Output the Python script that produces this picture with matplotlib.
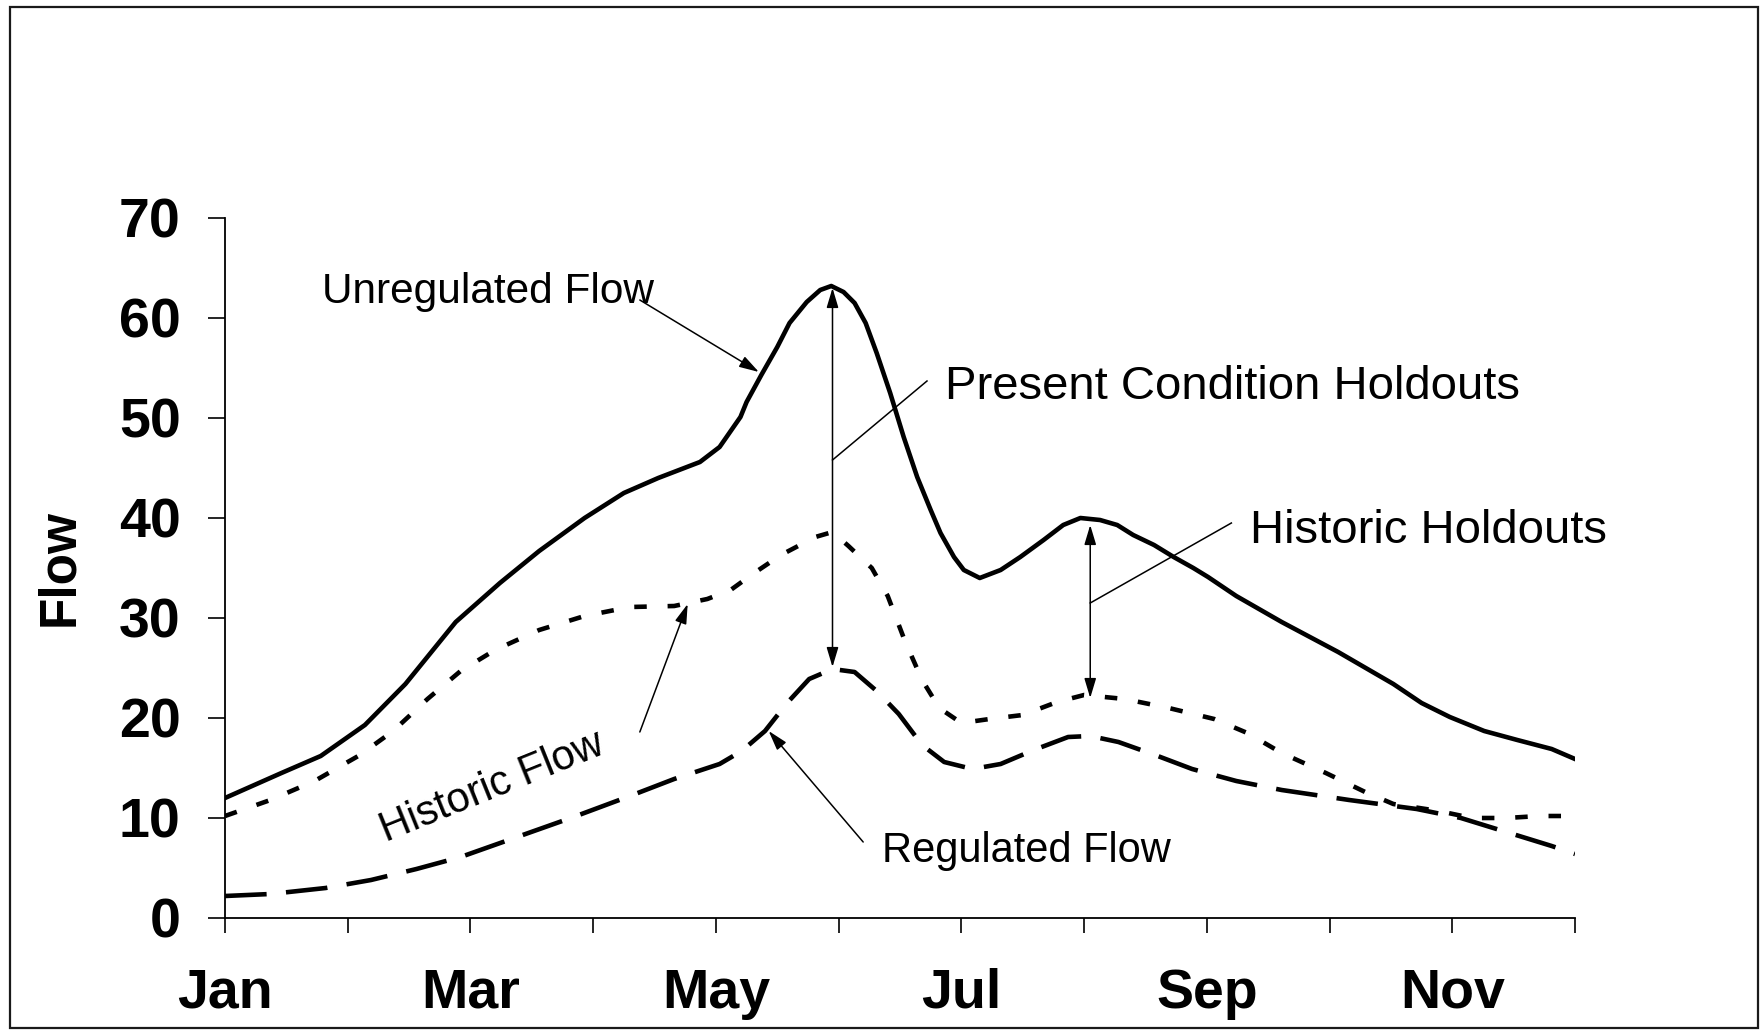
import matplotlib
matplotlib.use("Agg")
import matplotlib.pyplot as plt
from matplotlib.patches import Rectangle

plt.rcParams['font.family'] = ['Liberation Sans', 'DejaVu Sans']
plt.rcParams['lines.scale_dashes'] = False

# ---- data (x in months from Jan = 0) ----
unreg_x = [0, 0.46, 0.78, 1.14, 1.47, 1.88, 2.24, 2.56, 2.93, 3.25, 3.53, 3.87, 4.03, 4.2,
           4.25, 4.37, 4.5, 4.6, 4.74, 4.85, 4.94, 5.04, 5.13, 5.22, 5.31, 5.42, 5.53,
           5.64, 5.75, 5.83, 5.94, 6.02, 6.15, 6.32, 6.48, 6.67, 6.83, 6.97, 7.13, 7.27,
           7.4, 7.57, 7.73, 7.89, 8.01, 8.24, 8.61, 9.07, 9.52, 9.75, 9.98, 10.26, 10.53,
           10.81, 11.0]
unreg_y = [12.0, 14.5, 16.2, 19.3, 23.4, 29.6, 33.5, 36.7, 40.0, 42.5, 44.0, 45.6, 47.1, 50.1,
           51.6, 54.3, 57.1, 59.5, 61.6, 62.8, 63.2, 62.6, 61.5, 59.5, 56.5, 52.5, 48.1,
           44.1, 40.8, 38.5, 36.1, 34.8, 34.0, 34.8, 36.1, 37.8, 39.3, 40.0, 39.8, 39.3,
           38.3, 37.3, 36.1, 35.0, 34.1, 32.2, 29.6, 26.6, 23.4, 21.5, 20.1, 18.7, 17.8,
           16.9, 15.9]

hist_x = [0, 0.37, 0.73, 1.1, 1.37, 1.65, 1.92, 2.2, 2.56, 2.93, 3.3, 3.66, 3.93, 4.12, 4.3,
          4.53, 4.81, 4.95, 5.08, 5.27, 5.4, 5.54, 5.68, 5.82, 6.0, 6.23, 6.5, 6.78, 7.0,
          7.33, 7.69, 8.06, 8.33, 8.61, 8.97, 9.29, 9.52, 9.89, 10.16, 10.44, 10.71, 11.0]
hist_y = [10.2, 11.8, 13.7, 16.3, 18.7, 21.9, 24.7, 26.8, 28.8, 30.2, 31.1, 31.2, 31.9, 32.8, 34.4,
          36.3, 38.1, 38.6, 37.2, 35.0, 32.2, 27.7, 23.8, 21.0, 19.5, 19.9, 20.3, 21.6, 22.3,
          21.9, 21.0, 19.9, 18.5, 16.5, 14.5, 12.6, 11.4, 10.7, 10.0, 10.0, 10.2, 10.2]

reg_x = [0, 0.37, 0.82, 1.19, 1.56, 1.92, 2.38, 2.84, 3.3, 3.66, 4.03, 4.21, 4.4, 4.58, 4.76,
         4.95, 5.13, 5.31, 5.49, 5.68, 5.86, 6.09, 6.32, 6.59, 6.87, 7.05, 7.28, 7.6, 7.88,
         8.24, 8.61, 9.16, 9.71, 10.07, 10.44, 10.81, 11.0]
reg_y = [2.2, 2.4, 3.0, 3.8, 4.9, 6.1, 8.1, 10.1, 12.2, 13.9, 15.4, 16.7, 18.7, 21.5, 23.9,
         24.9, 24.6, 22.7, 20.4, 17.3, 15.6, 14.9, 15.4, 16.8, 18.1, 18.2, 17.6, 16.2, 14.9,
         13.7, 12.8, 11.8, 10.9, 10.0, 8.6, 7.2, 6.4]

month_ticks = list(range(12))
month_labels = ['Jan', '', 'Mar', '', 'May', '', 'Jul', '', 'Sep', '', 'Nov', '']
y_ticks = [0, 10, 20, 30, 40, 50, 60, 70]

# ---- figure ----
fig = plt.figure(figsize=(17.63, 10.30), dpi=100)
fig.patches.append(Rectangle((10 / 1763, 1 - 1028 / 1030), (1758 - 10) / 1763, (1028 - 7) / 1030,
                             transform=fig.transFigure, fill=False, edgecolor='#1a1a1a',
                             linewidth=1.6, zorder=0))
ax = fig.add_axes([225 / 1763, 1 - 918 / 1030, 1350 / 1763, 700 / 1030])

ax.plot(unreg_x, unreg_y, color='black', lw=3.3, solid_joinstyle='round', zorder=3)
l_hist, = ax.plot(hist_x, hist_y, color='black', lw=3.3, zorder=3)
l_hist.set_dashes([9, 15])
l_reg, = ax.plot(reg_x, reg_y, color='black', lw=3.3, zorder=3)
l_reg.set_dashes([30, 14])

ax.set_xlim(0, 11)
ax.set_ylim(0, 70)
ax.set_xticks(month_ticks)
ax.set_xticklabels(month_labels)
ax.set_yticks(y_ticks)
for s in ['top', 'right']:
    ax.spines[s].set_visible(False)
for s in ['left', 'bottom']:
    ax.spines[s].set_linewidth(1.3)
ax.tick_params(axis='y', length=12, width=1.2, pad=20, labelsize=40)
ax.tick_params(axis='x', length=11, width=1.2, pad=25, labelsize=40)
for lab in ax.get_xticklabels() + ax.get_yticklabels():
    lab.set_fontweight('bold')

fig.text(60 / 1763, 1 - 568 / 1030, 'Flow', rotation=90, ha='center', va='center',
         fontsize=37, fontweight='bold')

thin = 1.1
head = '-|>,head_length=0.6,head_width=0.18'
dbl = '<|-|>,head_length=0.6,head_width=0.18'

# Unregulated Flow
ax.text(0.79, 61.5, 'Unregulated Flow', fontsize=30.5, ha='left', va='baseline')
ax.annotate('', xy=(4.35, 54.6), xytext=(3.38, 61.8),
            arrowprops=dict(arrowstyle=head, lw=thin, color='black', mutation_scale=20,
                            shrinkA=0, shrinkB=0))

# Present condition holdouts
ax.annotate('', xy=(4.95, 63.0), xytext=(4.95, 25.1),
            arrowprops=dict(arrowstyle=dbl, lw=thin, color='black', mutation_scale=20,
                            shrinkA=0, shrinkB=0))
ax.plot([4.95, 5.72], [45.8, 53.7], color='black', lw=thin)
ax.text(5.87, 51.9, 'Present Condition Holdouts', fontsize=34, ha='left', va='baseline')

# Historic holdouts
ax.annotate('', xy=(7.05, 39.3), xytext=(7.05, 22.0),
            arrowprops=dict(arrowstyle=dbl, lw=thin, color='black', mutation_scale=20,
                            shrinkA=0, shrinkB=0))
ax.plot([7.05, 8.2], [31.5, 39.5], color='black', lw=thin)
ax.text(8.35, 37.5, 'Historic Holdouts', fontsize=34, ha='left', va='baseline')

# Historic flow
ax.text(2.18, 13.1, 'Historic Flow', fontsize=30, rotation=22, ha='center', va='center')
ax.annotate('', xy=(3.77, 31.4), xytext=(3.38, 18.6),
            arrowprops=dict(arrowstyle=head, lw=thin, color='black', mutation_scale=20,
                            shrinkA=0, shrinkB=0))

# Regulated flow
ax.text(5.35, 5.6, 'Regulated Flow', fontsize=30, ha='left', va='baseline')
ax.annotate('', xy=(4.43, 18.7), xytext=(5.2, 7.6),
            arrowprops=dict(arrowstyle=head, lw=thin, color='black', mutation_scale=20,
                            shrinkA=0, shrinkB=0))

fig.savefig('out.png', dpi=100)
